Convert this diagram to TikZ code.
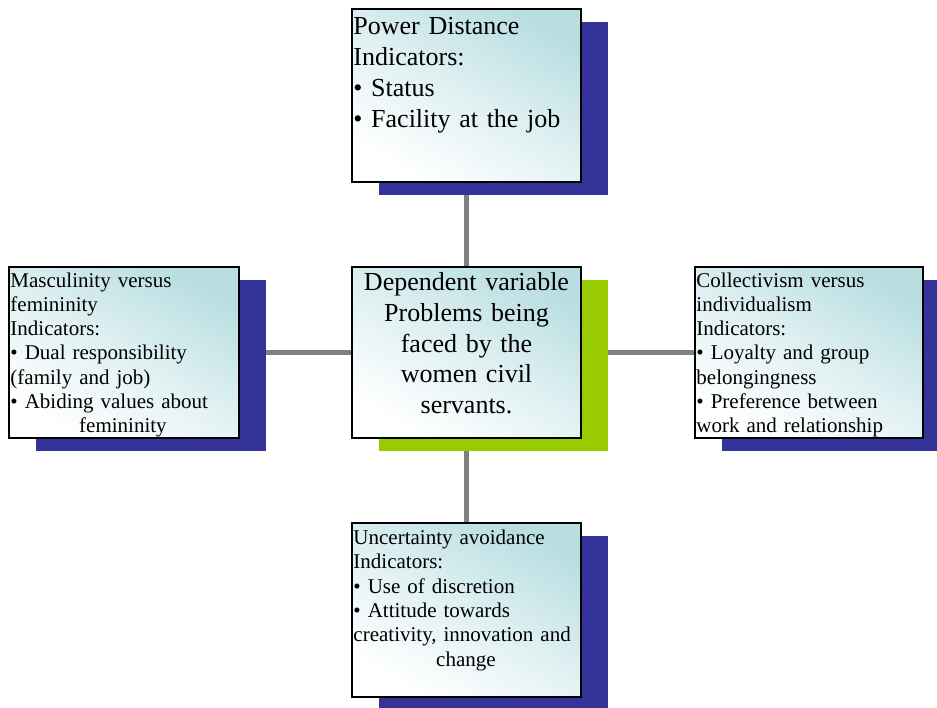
\documentclass[tikz,border=0pt]{standalone}
\usepackage{fontspec}
\setmainfont{Liberation Serif}
\usetikzlibrary{shadows,backgrounds}
\definecolor{navy}{HTML}{333399}
\definecolor{lime}{HTML}{99CC00}
\definecolor{aqua}{HTML}{B9DEE2}
\definecolor{link}{HTML}{808080}

\begin{document}
\begin{tikzpicture}[x=1pt,y=-1pt,
    card/.style={rectangle,draw=black,line width=1.5pt,top color=aqua,bottom color=white,middle color=aqua!45!white,shading angle=-30,inner sep=0pt,
        drop shadow={shadow xshift=27pt,shadow yshift=-13pt,fill=#1,opacity=1}},
    card/.default=navy,
    big/.style={anchor=north west,inner xsep=2pt,text width=225pt,align=left,font=\fontsize{26}{31}\selectfont},
    small/.style={anchor=north west,inner xsep=2pt,text width=225pt,align=left,font=\fontsize{21}{24.3}\selectfont},
    link/.style={draw=link,line width=5pt}
]
\useasboundingbox (0,0) rectangle (937,707);

% boxes
\node[card,minimum width=229,minimum height=173] (pd) at (466.5,95.5) {};
\node[card=lime,minimum width=229,minimum height=171] (dv) at (466.5,352.5) {};
\node[card,minimum width=230,minimum height=171] (mf) at (124,352.5) {};
\node[card,minimum width=228,minimum height=171] (ci) at (809,352.5) {};
\node[card,minimum width=229,minimum height=174] (ua) at (466.5,610) {};

% texts
\node[big,inner ysep=9pt] (pdtext) at (pd.north west) {Power Distance\\Indicators:\\• Status\\• Facility at the job};
\node[big,anchor=north,align=center,inner ysep=6pt,font=\fontsize{26}{30.8}\selectfont] (dvtext) at (dv.north)
    {Dependent variable\\Problems being\\faced by the\\women civil\\servants.};
\node[small,inner ysep=6pt] (mftext) at (mf.north west) {Masculinity versus\\femininity\\Indicators:\\• Dual responsibility\\(family and job)\\• Abiding values about\\\makebox[225pt]{femininity}};
\node[small,inner ysep=6pt] (citext) at (ci.north west) {Collectivism versus\\individualism\\Indicators:\\• Loyalty and group\\belongingness\\• Preference between\\work and relationship};
\node[small,inner ysep=7.5pt] (uatext) at (ua.north west) {Uncertainty avoidance\\Indicators:\\• Use of discretion\\• Attitude towards\\creativity, innovation and\\\makebox[225pt]{change}};

% connectors
\begin{pgfonlayer}{background}
\draw[link] (pd) -- (dv);
\draw[link] (dv) -- (ua);
\draw[link] (mf) -- (dv);
\draw[link] (dv) -- (ci);
\end{pgfonlayer}
\end{tikzpicture}
\end{document}
